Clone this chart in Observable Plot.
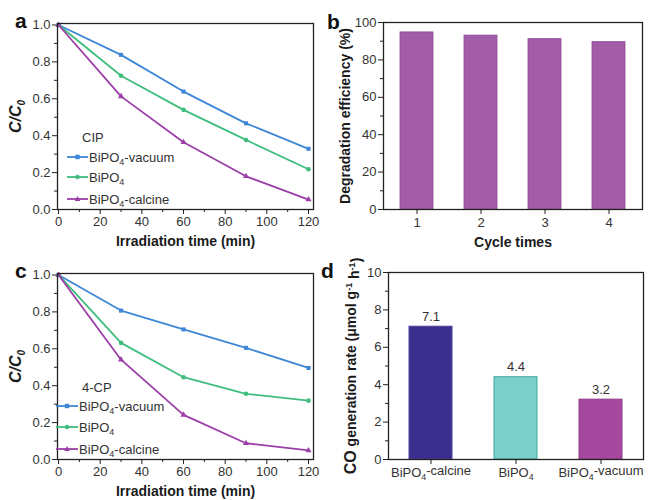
<!DOCTYPE html>
<html>
<head>
<meta charset="utf-8">
<script src="https://cdn.jsdelivr.net/npm/d3@7"></script>
<script src="https://cdn.jsdelivr.net/npm/@observablehq/plot@0.6"></script>
<style>
  html, body { margin: 0; padding: 0; background: #fff; }
  #root { position: relative; width: 651px; height: 500px; overflow: hidden; font-family: "Liberation Sans", Arial, sans-serif; }
  .panel { position: absolute; }
  .letter { position: absolute; font-family: "Liberation Sans", Arial, sans-serif; font-weight: bold; font-size: 21px; color: #111; line-height: 1; }
  .legend { position: absolute; font-family: "Liberation Sans", Arial, sans-serif; font-size: 13px; color: #333; }
  .legend .row { position: absolute; white-space: nowrap; display: flex; align-items: center; height: 16px; }
  .legend sub { font-size: 9px; vertical-align: -3px; line-height: 0; }
  svg g[aria-label="x-axis label"] text, svg g[aria-label="y-axis label"] text { font-weight: bold; font-size: 14px; fill: #1a1a1a; }
  svg g[aria-label="x-axis tick label"] text, svg g[aria-label="y-axis tick label"] text { fill: #333; }
</style>
</head>
<body>
<div id="root"></div>
<script>
// ---------- data ----------
const times = [0, 30, 60, 90, 120];
const seriesNames = ["BiPO4-vacuum", "BiPO4", "BiPO4-calcine"];
const seriesColors = ["#3d87d6", "#3fbd7e", "#9b3ea8"];
const seriesSymbols = ["square", "circle", "triangle"];

const cipVacuum  = [1.0, 0.838, 0.639, 0.467, 0.329];
const cipBiPO4   = [1.0, 0.725, 0.540, 0.377, 0.218];
const cipCalcine = [1.0, 0.613, 0.364, 0.180, 0.054];

const cpVacuum  = [1.0, 0.807, 0.705, 0.605, 0.496];
const cpBiPO4   = [1.0, 0.632, 0.446, 0.356, 0.319];
const cpCalcine = [1.0, 0.541, 0.242, 0.088, 0.049];

const cycles = ["1", "2", "3", "4"];
const efficiency = [94.7, 93.0, 91.1, 89.5];

const catalysts = ["BiPO4-calcine", "BiPO4", "BiPO4-vacuum"];
const coRate = [7.1, 4.4, 3.2];
const catalystColors = ["#3b2f8e", "#7dd0ca", "#a5489e"];
const catalystStrokes = ["#4a40a0", "#3fa89f", "#8f3c8a"];

const ratioTicks = [0, 0.2, 0.4, 0.6, 0.8, 1.0];
const timeTicks = [0, 20, 40, 60, 80, 100, 120];
const effTicks = [0, 20, 40, 60, 80, 100];
const rateTicks = [0, 2, 4, 6, 8, 10];

const root = document.getElementById("root");
const FONT = '"Liberation Sans", Arial, sans-serif';

function place(el, left, top) {
  const d = document.createElement("div");
  d.className = "panel";
  d.style.left = left + "px";
  d.style.top = top + "px";
  d.appendChild(el);
  root.appendChild(d);
}
function letter(t, left, top) {
  const d = document.createElement("div");
  d.className = "letter";
  d.textContent = t;
  d.style.left = left + "px";
  d.style.top = top + "px";
  root.appendChild(d);
}
function sub4(name) {
  return name.replace("BiPO4", 'BiPO<tspan dy="0.35em" font-size="0.68em">4</tspan><tspan dy="-0.35em">') + (name.includes("BiPO4") ? "</tspan>" : "");
}
function minorOf(ticks) {
  const out = [];
  for (let i = 0; i < ticks.length - 1; i++) out.push((ticks[i] + ticks[i + 1]) / 2);
  return out;
}

function linePanel(vac, bip, cal) {
  const data = [];
  times.forEach((t, i) => {
    data.push({ t, v: vac[i], s: seriesNames[0] });
    data.push({ t, v: bip[i], s: seriesNames[1] });
    data.push({ t, v: cal[i], s: seriesNames[2] });
  });
  const svg = Plot.plot({
    width: 330, height: 250,
    marginTop: 23, marginBottom: 41, marginLeft: 57, marginRight: 17,
    style: { fontFamily: FONT, fontSize: "13px", color: "#222", background: "transparent", overflow: "visible" },
    x: { domain: [-0.5, 122.4] },
    y: { domain: [0, 1.008] },
    color: { domain: seriesNames, range: seriesColors },
    symbol: { domain: seriesNames, range: seriesSymbols },
    marks: [
      Plot.axisY({ ticks: minorOf(ratioTicks), tickSize: 3, tickFormat: () => "", label: null }),
      Plot.axisY({ ticks: ratioTicks, tickSize: 5, tickPadding: 2, tickFormat: d3.format(".1f"), label: "C/C0", labelAnchor: "center", labelOffset: 46, labelArrow: "none" }),
      Plot.axisX({ ticks: minorOf(timeTicks), tickSize: 3, tickFormat: () => "", label: null }),
      Plot.axisX({ ticks: timeTicks, tickSize: 5, tickPadding: 2, label: "Irradiation time (min)", labelAnchor: "center", labelOffset: 36, labelArrow: "none" }),
      Plot.line(data, { x: "t", y: "v", z: "s", stroke: "s", strokeWidth: 1.8 }),
      Plot.dot(data, { x: "t", y: "v", fill: "s", symbol: "s", r: 2.3 }),
      Plot.frame({ stroke: "#222", strokeWidth: 1.3 })
    ]
  });
  const yl = svg.querySelector('g[aria-label="y-axis label"] text');
  if (yl) { yl.innerHTML = '<tspan font-style="italic" font-size="16px">C/C</tspan><tspan font-style="italic" font-size="10px" dy="0.35em">0</tspan>'; }
  return svg;
}

function legend(title, left, top, titleDx, lineLeft, lineW, rows) {
  const box = document.createElement("div");
  box.className = "legend";
  box.style.left = left + "px";
  box.style.top = top + "px";
  const t = document.createElement("div");
  t.className = "row";
  t.style.left = titleDx + "px";
  t.style.top = "0px";
  t.textContent = title;
  box.appendChild(t);
  rows.forEach((r, i) => {
    const row = document.createElement("div");
    row.className = "row";
    row.style.left = lineLeft + "px";
    row.style.top = r + "px";
    const c = seriesColors[i];
    let mk = "";
    const cx = lineW / 2;
    if (seriesSymbols[i] === "square") mk = `<rect x="${cx - 2.2}" y="5.8" width="4.4" height="4.4" fill="${c}"/>`;
    else if (seriesSymbols[i] === "circle") mk = `<circle cx="${cx}" cy="8" r="2.2" fill="${c}"/>`;
    else mk = `<path d="M${cx},5 L${cx + 2.8},10 L${cx - 2.8},10 Z" fill="${c}"/>`;
    const name = seriesNames[i];
    const label = name.replace("BiPO4", "BiPO<sub>4</sub>");
    row.innerHTML = `<svg width="${lineW}" height="16" style="display:block"><line x1="0" x2="${lineW}" y1="8" y2="8" stroke="${c}" stroke-width="1.8"/>${mk}</svg><span style="margin-left:1px">${label}</span>`;
    box.appendChild(row);
  });
  root.appendChild(box);
}

// ---------- panel a ----------
place(linePanel(cipVacuum, cipBiPO4, cipCalcine), 0, 0);
letter("a", 15, 10);
legend("CIP", 0, 129, 82, 67, 21, [20, 40, 62]);

// ---------- panel c ----------
place(linePanel(cpVacuum, cpBiPO4, cpCalcine), 0, 250);
letter("c", 15, 260);
legend("4-CP", 0, 379, 82, 56, 22, [19, 40, 62]);

// ---------- panel b ----------
{
  const data = cycles.map((c, i) => ({ c, v: efficiency[i] }));
  const svg = Plot.plot({
    width: 331, height: 250,
    marginTop: 22, marginBottom: 41, marginLeft: 63, marginRight: 9,
    style: { fontFamily: FONT, fontSize: "13px", color: "#222", background: "transparent", overflow: "visible" },
    x: { type: "band", domain: cycles, paddingInner: 0.48, paddingOuter: 0.26 },
    y: { domain: [0, 100] },
    marks: [
      Plot.barY(data, { x: "c", y: "v", fill: "#a35ca8", stroke: "#8c4a92", strokeWidth: 0.8 }),
      Plot.axisY({ ticks: minorOf(effTicks), tickSize: 3, tickFormat: () => "", label: null }),
      Plot.axisY({ ticks: effTicks, tickSize: 5, tickPadding: 2, label: "Degradation efficiency (%)", labelAnchor: "center", labelOffset: 43, labelArrow: "none" }),
      Plot.axisX({ tickSize: 5, tickPadding: 3, label: "Cycle times", labelAnchor: "center", labelOffset: 37, labelArrow: "none" }),
      Plot.frame({ stroke: "#222", strokeWidth: 1.3 })
    ]
  });
  place(svg, 320, 0);
  letter("b", 327, 11);
}

// ---------- panel d ----------
{
  const data = catalysts.map((k, i) => ({ k, v: coRate[i] }));
  const svg = Plot.plot({
    width: 331, height: 250,
    marginTop: 22, marginBottom: 41, marginLeft: 68, marginRight: 8,
    style: { fontFamily: FONT, fontSize: "13px", color: "#222", background: "transparent", overflow: "visible" },
    x: { type: "band", domain: catalysts, paddingInner: 0.49, paddingOuter: 0.24 },
    y: { domain: [0, 10] },
    color: { domain: catalysts, range: catalystColors },
    marks: [
      Plot.barY(data, { x: "k", y: "v", fill: "k", stroke: (d) => catalystStrokes[catalysts.indexOf(d.k)], strokeWidth: 1 }),
      Plot.text(data, { x: "k", y: "v", text: (d) => d3.format(".1f")(d.v), dy: -10, fontSize: 13, fill: "#333" }),
      Plot.axisY({ ticks: minorOf(rateTicks), tickSize: 3, tickFormat: () => "", label: null }),
      Plot.axisY({ ticks: rateTicks, tickSize: 5, tickPadding: 2, label: "CO generation rate (μmol g-1 h-1)", labelAnchor: "center", labelOffset: 42, labelArrow: "none" }),
      Plot.axisX({ tickSize: 5, tickPadding: 3, label: null }),
      Plot.frame({ stroke: "#222", strokeWidth: 1.3 })
    ]
  });
  svg.querySelectorAll('g[aria-label="x-axis tick label"] text').forEach((t) => {
    const s = t.textContent;
    t.innerHTML = sub4(s);
  });
  const yl = svg.querySelector('g[aria-label="y-axis label"] text');
  if (yl) {
    yl.innerHTML = '<tspan font-size="16px">CO</tspan> generation rate (μmol g<tspan dy="-0.45em" font-size="9px">-1</tspan><tspan dy="0.45em"> h</tspan><tspan dy="-0.45em" font-size="9px">-1</tspan><tspan dy="0.45em">)</tspan>';
  }
  place(svg, 320, 250);
  letter("d", 321, 260);
}
</script>
</body>
</html>
